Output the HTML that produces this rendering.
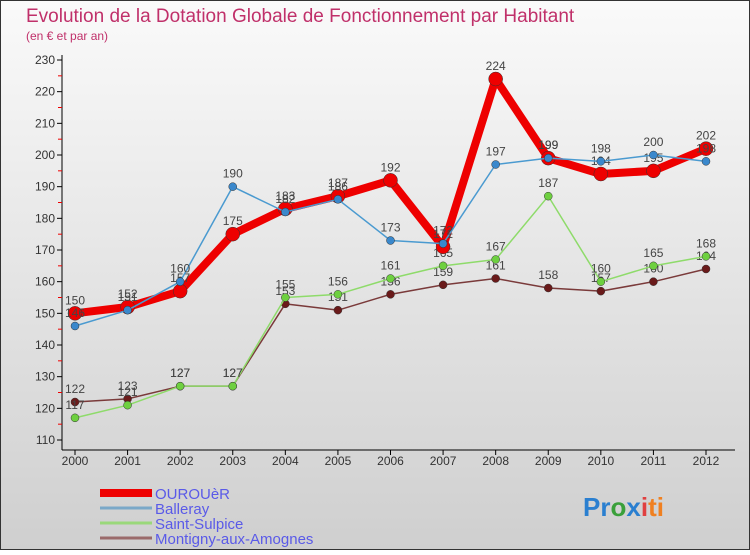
<!DOCTYPE html>
<html><head><meta charset="utf-8"><style>
body{margin:0;width:750px;height:550px;overflow:hidden;font-family:"Liberation Sans",sans-serif}
svg text{font-family:"Liberation Sans",sans-serif}
</style></head><body>
<svg id="c" width="750" height="550" xmlns="http://www.w3.org/2000/svg">
<defs><linearGradient id="bg" x1="0" y1="0" x2="0" y2="1"><stop offset="0" stop-color="#fafafa"/><stop offset="1" stop-color="#cfcfcf"/></linearGradient></defs>
<rect x="0.5" y="0.5" width="749" height="549" fill="url(#bg)" stroke="#333"/>
<text x="26" y="22" font-size="19" fill="#c0306a">Evolution de la Dotation Globale de Fonctionnement par Habitant</text>
<text x="26" y="40" font-size="12" fill="#c0306a">(en € et par an)</text>
<g id="axes"></g><g id="series"></g><g id="legend"></g>
<text x="583" y="516" font-size="26" font-weight="bold"><tspan fill="#2a7fd0">Pr</tspan><tspan fill="#3aa03a">o</tspan><tspan fill="#2a7fd0">x</tspan><tspan fill="#e04040">i</tspan><tspan fill="#f08020">ti</tspan></text>
</svg>
<script>
const years=[2000,2001,2002,2003,2004,2005,2006,2007,2008,2009,2010,2011,2012];
const ourouer=[150,152,157,175,183,187,192,171,224,199,194,195,202];
const balleray=[146,151,160,190,182,186,173,172,197,199,198,200,198];
const saintSulpice=[117,121,127,127,155,156,161,165,167,187,160,165,168];
const montigny=[122,123,127,127,153,151,156,159,161,158,157,160,164];
const yTicks=[110,120,130,140,150,160,170,180,190,200,210,220,230];
const NS="http://www.w3.org/2000/svg";
const X=i=>75+i*(706-75)/12, Y=v=>440-(v-110)*380/120;
function mk(p,t,a){const e=document.createElementNS(NS,t);for(const k in a)e.setAttribute(k,a[k]);p.appendChild(e);return e;}
const ax=document.getElementById('axes');
const yl=mk(ax,'line',{x1:62,y1:55,x2:62,y2:450,stroke:'#000'});


const xl=mk(ax,'line',{x1:62,y1:450,x2:735,y2:450,stroke:'#000'});


yTicks.forEach((v,i)=>{
 mk(ax,'line',{x1:57,x2:62,y1:Y(v),y2:Y(v),stroke:'#000'});
 if(i<yTicks.length-1)mk(ax,'line',{x1:58,x2:62,y1:Y(v+5),y2:Y(v+5),stroke:'#e00'});
 const t=mk(ax,'text',{x:55,y:Y(v)+4,'text-anchor':'end','font-size':12,fill:'#333'});t.textContent=v;
 
 
});
years.forEach((y,i)=>{
 mk(ax,'line',{x1:X(i),x2:X(i),y1:450,y2:455,stroke:'#000'});
 const t=mk(ax,'text',{x:X(i),y:465,'text-anchor':'middle','font-size':12,fill:'#333'});t.textContent=y;
 
 
});
const S=document.getElementById('series');
function series(data,color,w,r,pc,name){
 const g=mk(S,'g',{});
 
 
 mk(g,'polyline',{points:data.map((v,i)=>X(i)+','+Y(v)).join(' '),fill:'none',stroke:color,'stroke-width':w,'stroke-linejoin':'round'});
 data.forEach((v,i)=>{
  const c=mk(g,'circle',{cx:X(i),cy:Y(v),r:r,fill:pc,stroke:'#333','stroke-width':0.5});
  
  
  const t=mk(g,'text',{x:X(i),y:Y(v)-9,'text-anchor':'middle','font-size':12,fill:'#444'});t.textContent=v;
  
  
 });
}
series(montigny,'#7a3a3a',1.5,4,'#6a1a1a','series-montigny');
series(saintSulpice,'#8edb6a',1.5,4,'#6ed040','series-saint-sulpice');
series(ourouer,'#ee0000',8,7,'#ee0000','series-ourouer');
series(balleray,'#4a9ad0',1.5,4,'#3a88cc','series-balleray');
const L=document.getElementById('legend');
const items=[['OUROUèR','#ee0000',8],['Balleray','#7aa8c8',3],['Saint-Sulpice','#9ad87a',3],['Montigny-aux-Amognes','#9a6a6a',3]];
items.forEach((it,i)=>{
 const y=493+i*15;
 const g=mk(L,'g',{});
 
 
 mk(g,'line',{x1:100,x2:152,y1:y,y2:y,stroke:it[1],'stroke-width':it[2]});
 const t=mk(g,'text',{x:155,y:y+6,'font-size':15,fill:'#5a5ae8'});t.textContent=it[0];
});
</script>
</body></html>
